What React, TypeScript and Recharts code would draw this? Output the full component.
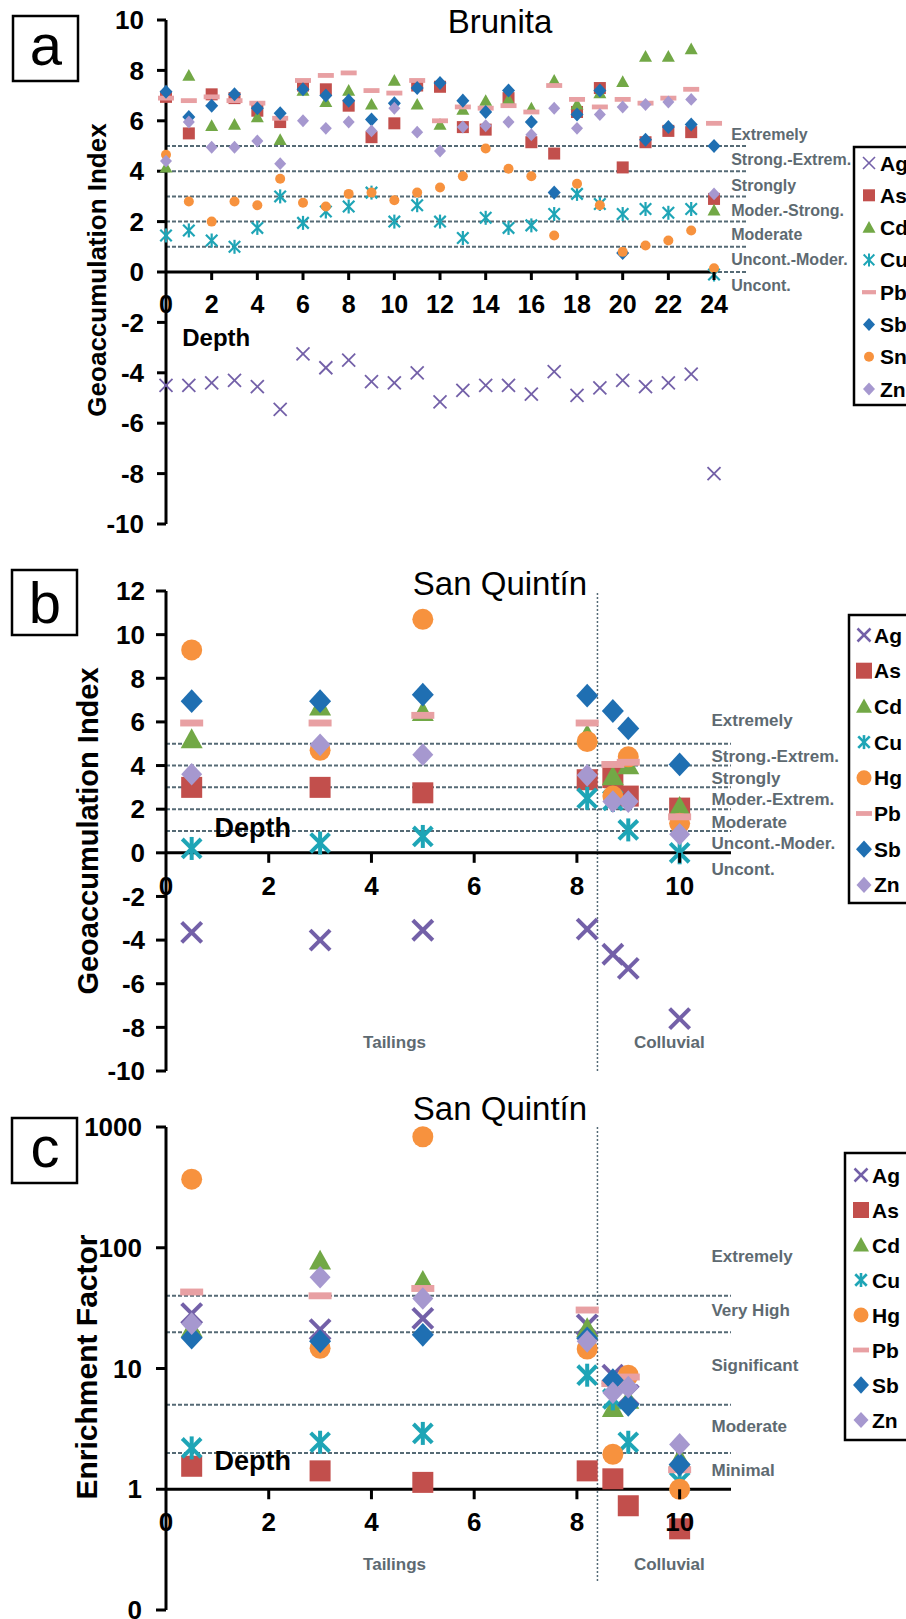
import React from 'react';
import { ScatterChart, Scatter, XAxis, YAxis, ReferenceLine } from 'recharts';

const FONT = '"Liberation Sans", Arial, Helvetica, sans-serif';
const GRAY = '#5e6a71';
const GRID = '#556a75';

// ---------------- Panel a: Brunita (Igeo) ----------------
const depthA = [0, 1, 2, 3, 4, 5, 6, 7, 8, 9, 10, 11, 12, 13, 14, 15, 16, 17, 18, 19, 20, 21, 22, 23, 24];
const agA = [-4.5, -4.5, -4.4, -4.3, -4.55, -5.45, -3.25, -3.8, -3.5, -4.35, -4.4, -4.0, -5.15, -4.7, -4.5, -4.5, -4.85, -3.95, -4.9, -4.6, -4.3, -4.55, -4.4, -4.05, -8.0];
const asA = [6.95, 5.5, 7.05, 6.9, 6.4, 5.95, 7.4, 7.25, 6.6, 5.35, 5.9, 7.4, 7.35, 5.75, 5.65, 6.9, 5.15, 4.7, 6.35, 7.3, 4.15, 5.15, 5.6, 5.55, 2.9];
const cdA = [4.15, 7.8, 5.8, 5.85, 6.15, 5.25, 7.2, 6.75, 7.2, 6.65, 7.6, 6.65, 5.85, 6.45, 6.8, 6.85, 6.5, 7.6, 6.65, 7.1, 7.55, 8.55, 8.55, 8.85, 2.45];
const cuA = [1.45, 1.65, 1.25, 1.0, 1.75, 3.0, 1.95, 2.4, 2.6, 3.15, 2.0, 2.65, 2.0, 1.35, 2.15, 1.75, 1.85, 2.3, 3.1, 2.7, 2.3, 2.5, 2.35, 2.5, -0.1];
const pbA = [6.9, 6.8, 6.95, 6.8, 6.7, 6.1, 7.6, 7.8, 7.9, 7.2, 7.1, 7.6, 6.0, 6.55, 6.5, 6.6, 6.35, 7.4, 6.85, 6.55, 6.85, 6.7, 6.9, 7.25, 5.9];
const sbA = [7.15, 6.15, 6.6, 7.05, 6.5, 6.3, 7.25, 7.0, 6.8, 6.05, 6.7, 7.3, 7.5, 6.8, 6.35, 7.2, 5.95, 3.15, 6.25, 7.2, 0.75, 5.25, 5.75, 5.85, 5.0];
const snA = [4.65, 2.8, 2.0, 2.8, 2.65, 3.7, 2.75, 2.6, 3.1, 3.15, 2.85, 3.15, 3.35, 3.8, 4.9, 4.1, 3.8, 1.45, 3.5, 2.65, 0.8, 1.05, 1.25, 1.65, 0.15];
const znA = [4.4, 5.95, 4.95, 4.95, 5.2, 4.3, 6.0, 5.7, 5.95, 5.6, 6.5, 5.55, 4.8, 5.75, 5.8, 5.95, 5.45, 6.5, 5.7, 6.25, 6.55, 6.65, 6.75, 6.85, 3.1];
const namesA = ['Ag', 'As', 'Cd', 'Cu', 'Pb', 'Sb', 'Sn', 'Zn'];
const valuesA: Record<string, (number | null)[]> = { Ag: agA, As: asA, Cd: cdA, Cu: cuA, Pb: pbA, Sb: sbA, Sn: snA, Zn: znA };
const yTicksA = [-10, -8, -6, -4, -2, 0, 2, 4, 6, 8, 10];
const xTicksA = [0, 2, 4, 6, 8, 10, 12, 14, 16, 18, 20, 22, 24];
const levelsA = [1, 2, 3, 4, 5];
const classTextA = ['Extremely', 'Strong.-Extrem.', 'Strongly', 'Moder.-Strong.', 'Moderate', 'Uncont.-Moder.', 'Uncont.'];
const classYA = [5.45, 4.45, 3.45, 2.45, 1.5, 0.5, -0.55];

// ---------------- Panel b: San Quintín (Igeo) ----------------
const depthB = [0.5, 3, 5, 8.2, 8.7, 9, 10];
const agB = [-3.65, -4.0, -3.55, -3.5, -4.65, -5.3, -7.6];
const asB = [3.0, 3.0, 2.75, 3.35, 3.45, 2.6, 2.05];
const cdB = [5.2, 6.7, 6.45, 5.4, 3.5, 4.0, 2.1];
const cuB = [0.2, 0.45, 0.75, 2.5, 2.4, 1.05, 0.0];
const hgB = [9.3, 4.7, 10.7, 5.1, 2.6, 4.4, 1.35];
const pbB = [5.95, 5.95, 6.3, 5.95, 4.05, 4.15, 1.65];
const sbB = [6.95, 6.95, 7.25, 7.2, 6.5, 5.7, 4.05];
const znB = [3.6, 4.95, 4.5, 3.55, 2.35, 2.35, 0.85];
const namesBC = ['Ag', 'As', 'Cd', 'Cu', 'Hg', 'Pb', 'Sb', 'Zn'];
const valuesB: Record<string, (number | null)[]> = { Ag: agB, As: asB, Cd: cdB, Cu: cuB, Hg: hgB, Pb: pbB, Sb: sbB, Zn: znB };
const yTicksB = [-10, -8, -6, -4, -2, 0, 2, 4, 6, 8, 10, 12];
const xTicksBC = [0, 2, 4, 6, 8, 10];
const levelsB = [1, 2, 3, 4, 5];
const classTextB = ['Extremely', 'Strong.-Extrem.', 'Strongly', 'Moder.-Extrem.', 'Moderate', 'Uncont.-Moder.', 'Uncont.'];
const classYB = [6.05, 4.4, 3.4, 2.45, 1.4, 0.45, -0.75];

// ---------------- Panel c: San Quintín (Enrichment factor) ----------------
const depthC = [0.5, 3, 5, 8.2, 8.7, 9, 10];
const agC = [28.5, 21, 26, 23, 8.8, 6.0, null];
const asC = [1.55, 1.42, 1.14, 1.42, 1.22, 0.73, 0.47];
const cdC = [21.5, 78, 53, 21.5, 4.7, 5.5, 1.8];
const cuC = [2.2, 2.45, 2.9, 8.8, 5.6, 2.45, 1.15];
const hgC = [370, 14.7, 830, 14.5, 1.95, 8.8, 1.0];
const pbC = [43, 40, 46, 30.5, 7.5, 8.5, 1.45];
const sbC = [18, 16.8, 19, 17.8, 8.0, 5.0, 1.6];
const znC = [23.5, 57, 38, 16.8, 6.3, 7.0, 2.35];
const valuesC: Record<string, (number | null)[]> = { Ag: agC, As: asC, Cd: cdC, Cu: cuC, Hg: hgC, Pb: pbC, Sb: sbC, Zn: znC };
const yTicksC = [0.1, 1, 10, 100, 1000];
const levelsC = [2, 5, 20, 40];
const classTextC = ['Extremely', 'Very High', 'Significant', 'Moderate', 'Minimal'];
const classYC = [85, 30, 10.6, 3.3, 1.42];

const boundary = 8.4;
const unitText = ['Tailings', 'Colluvial'];
const unitX = [4.45, 9.8];

// ---------------- styles ----------------
const COLORS: Record<string, string> = {
  Ag: '#7360a8', As: '#c24f4c', Cd: '#72a846', Cu: '#1ea5b6', Hg: '#f7923e', Sn: '#f7923e',
  Pb: '#e8a0a3', Sb: '#1f6fb2', Zn: '#a698cf',
};
type Kind = 'cross' | 'square' | 'triangle' | 'star' | 'circle' | 'dash' | 'diamond';
const SHAPES: Record<string, Kind> = {
  Ag: 'cross', As: 'square', Cd: 'triangle', Cu: 'star', Hg: 'circle', Sn: 'circle', Pb: 'dash', Sb: 'diamond', Zn: 'diamond',
};
const sizeA: Record<string, [number, number]> = { Ag: [13, 1.8], As: [12, 0], Cd: [13, 0], Cu: [14, 2.2], Pb: [16, 0], Sb: [13, 0], Sn: [10, 0], Zn: [12, 0] };
const sizeBC: Record<string, [number, number]> = { Ag: [20, 4], As: [21, 0], Cd: [22, 0], Cu: [23, 4], Hg: [21, 0], Pb: [23, 0], Sb: [22, 0], Zn: [21, 0] };
const legSizeA: Record<string, [number, number]> = { Ag: [12, 1.6], As: [12, 0], Cd: [13, 0], Cu: [13, 2], Pb: [14, 0], Sb: [12, 0], Sn: [10, 0], Zn: [12, 0] };
const legSizeBC: Record<string, [number, number]> = { Ag: [13, 2.5], As: [16, 0], Cd: [16, 0], Cu: [14, 2.6], Hg: [15, 0], Pb: [16, 0], Sb: [16, 0], Zn: [15, 0] };

function Marker({ kind, cx, cy, s, w, color }: { kind: Kind; cx: number; cy: number; s: number; w: number; color: string }) {
  const h = s / 2;
  if (cx == null || cy == null || isNaN(cx) || isNaN(cy)) return null;
  switch (kind) {
    case 'cross':
      return (
        <g stroke={color} strokeWidth={w}>
          <line x1={cx - h} y1={cy - h} x2={cx + h} y2={cy + h} />
          <line x1={cx - h} y1={cy + h} x2={cx + h} y2={cy - h} />
        </g>
      );
    case 'star': {
      const d = h * 0.82;
      return (
        <g stroke={color} strokeWidth={w}>
          <line x1={cx - d} y1={cy - d} x2={cx + d} y2={cy + d} />
          <line x1={cx - d} y1={cy + d} x2={cx + d} y2={cy - d} />
          <line x1={cx} y1={cy - h} x2={cx} y2={cy + h} />
        </g>
      );
    }
    case 'square':
      return <rect x={cx - h} y={cy - h} width={s} height={s} fill={color} />;
    case 'triangle':
      return <polygon points={`${cx},${cy - h * 1.0} ${cx - h},${cy + h * 0.8} ${cx + h},${cy + h * 0.8}`} fill={color} />;
    case 'circle':
      return <circle cx={cx} cy={cy} r={h} fill={color} />;
    case 'dash':
      return <rect x={cx - h} y={cy - s * 0.15} width={s} height={s * 0.3} fill={color} />;
    case 'diamond':
      return <polygon points={`${cx},${cy - h * 1.08} ${cx + h},${cy} ${cx},${cy + h * 1.08} ${cx - h},${cy}`} fill={color} />;
  }
  return null;
}

function seriesEl(name: string, xs: number[], values: Record<string, (number | null)[]>, sizes: Record<string, [number, number]>) {
  const ys = values[name];
  const data = xs.map((x, i) => ({ x, y: ys[i] })).filter((d) => d.y != null);
  const [s, w] = sizes[name];
  return (
    <Scatter
      key={name}
      name={name}
      data={data}
      isAnimationActive={false}
      shape={(p: any) => <Marker kind={SHAPES[name]} cx={p.cx} cy={p.cy} s={s} w={w} color={COLORS[name]} />}
    />
  );
}

function textSeries(key: string, data: { x: number; y: number; text: string }[], opts: { size: number; color: string; anchor: string }) {
  return (
    <Scatter
      key={key}
      data={data}
      isAnimationActive={false}
      shape={(p: any) => (
        <text
          x={p.cx}
          y={p.cy}
          dominantBaseline="central"
          textAnchor={opts.anchor as any}
          fontFamily={FONT}
          fontWeight="bold"
          fontSize={opts.size}
          fill={opts.color}
        >
          {p.payload.text}
        </text>
      )}
    />
  );
}

function makeXTick(lineY: number, labelDy: number, fontSize: number, tickLen: number) {
  return (p: any) => (
    <g>
      {p.payload.value !== 0 && (
        <line x1={p.x} x2={p.x} y1={lineY} y2={lineY + tickLen} stroke="#000" strokeWidth={3} />
      )}
      <text x={p.x} y={lineY + labelDy} textAnchor="middle" fontFamily={FONT} fontWeight="bold" fontSize={fontSize} fill="#000">
        {p.payload.value}
      </text>
    </g>
  );
}

const W = 906;

// ---- panel geometry ----
const mA = { top: 20, right: 160, bottom: 15, left: 0 };
const hA = 540;
const zeroA = mA.top + (hA - mA.top - mA.bottom - 1) * (10 / 20);

const topB = 540;
const mB = { top: 51, right: 175, bottom: 28, left: 0 };
const hB = 560;
const zeroB = mB.top + (hB - mB.top - mB.bottom - 1) * (12 / 22);

const topC = 1100;
const mC = { top: 27, right: 175, bottom: 8, left: 0 };
const hC = 519;
const oneC = mC.top + (hC - mC.top - mC.bottom - 1) * (3 / 4);

const axisLine = { stroke: '#000', strokeWidth: 3 };
const dashed = { stroke: GRID, strokeWidth: 2, strokeDasharray: '4 2' };

function PanelA() {
  const classData = classTextA.map((t, i) => ({ x: 24.75, y: classYA[i], text: t }));
  return (
    <ScatterChart width={W} height={hA} margin={mA}>
      <XAxis type="number" dataKey="x" domain={[0, 25.4]} ticks={xTicksA} interval={0}
        axisLine={false} tickLine={false} height={1} tick={makeXTick(zeroA, 41, 25, 8)} />
      <YAxis type="number" dataKey="y" domain={[-10, 10]} ticks={yTicksA} interval={0} width={166}
        axisLine={axisLine} tickLine={axisLine} tickSize={9} tickMargin={13}
        tick={{ fontSize: 26, fontWeight: 'bold', fill: '#000', fontFamily: FONT }} />
      <ReferenceLine y={0} {...dashed} />
      {levelsA.map((v) => (
        <ReferenceLine key={v} y={v} {...dashed} />
      ))}
      <ReferenceLine segment={[{ x: 0, y: 0 }, { x: 24, y: 0 }]} stroke="#000" strokeWidth={3} />
      {namesA.map((n) => seriesEl(n, depthA, valuesA, sizeA))}
      {textSeries('cls', classData, { size: 16, color: GRAY, anchor: 'start' })}
      {textSeries('depth', [{ x: 2.2, y: -2.6, text: 'Depth' }], { size: 24, color: '#000', anchor: 'middle' })}
    </ScatterChart>
  );
}

function PanelB() {
  const classData = classTextB.map((t, i) => ({ x: 10.62, y: classYB[i], text: t }));
  const units = unitText.map((t, i) => ({ x: unitX[i], y: -8.7, text: t }));
  return (
    <ScatterChart width={W} height={hB} margin={mB}>
      <XAxis type="number" dataKey="x" domain={[0, 11]} ticks={xTicksBC} interval={0}
        axisLine={false} tickLine={false} height={1} tick={makeXTick(zeroB, 42, 26, 10)} />
      <YAxis type="number" dataKey="y" domain={[-10, 12]} ticks={yTicksB} interval={0} width={166}
        axisLine={axisLine} tickLine={axisLine} tickSize={10} tickMargin={11}
        tick={{ fontSize: 26, fontWeight: 'bold', fill: '#000', fontFamily: FONT }} />
      {levelsB.map((v) => (
        <ReferenceLine key={v} y={v} {...dashed} />
      ))}
      <ReferenceLine x={boundary} stroke={GRID} strokeWidth={1.5} strokeDasharray="2 2" />
      <ReferenceLine y={0} stroke="#000" strokeWidth={3} />
      {namesBC.map((n) => seriesEl(n, depthB, valuesB, sizeBC))}
      {textSeries('cls', classData, { size: 17, color: GRAY, anchor: 'start' })}
      {textSeries('units', units, { size: 17, color: GRAY, anchor: 'middle' })}
      {textSeries('depth', [{ x: 1.69, y: 1.15, text: 'Depth' }], { size: 27, color: '#000', anchor: 'middle' })}
    </ScatterChart>
  );
}

function PanelC() {
  const classData = classTextC.map((t, i) => ({ x: 10.62, y: classYC[i], text: t }));
  const units = unitText.map((t, i) => ({ x: unitX[i], y: 0.237, text: t }));
  return (
    <ScatterChart width={W} height={hC} margin={mC}>
      <XAxis type="number" dataKey="x" domain={[0, 11]} ticks={xTicksBC} interval={0}
        axisLine={false} tickLine={false} height={1} tick={makeXTick(oneC, 42, 26, 10)} />
      <YAxis type="number" dataKey="y" scale="log" domain={[0.1, 1000]} ticks={yTicksC} interval={0} width={166}
        axisLine={axisLine} tickLine={axisLine} tickSize={10} tickMargin={14}
        tickFormatter={(v: number) => (v < 1 ? '0' : String(v))}
        tick={{ fontSize: 26, fontWeight: 'bold', fill: '#000', fontFamily: FONT }} />
      {levelsC.map((v) => (
        <ReferenceLine key={v} y={v} {...dashed} />
      ))}
      <ReferenceLine segment={[{ x: boundary, y: 1000 }, { x: boundary, y: 0.17 }]} stroke={GRID} strokeWidth={1.5} strokeDasharray="2 2" />
      <ReferenceLine y={1} stroke="#000" strokeWidth={3} />
      {namesBC.map((n) => seriesEl(n, depthC, valuesC, sizeBC))}
      {textSeries('cls', classData, { size: 17, color: GRAY, anchor: 'start' })}
      {textSeries('units', units, { size: 17, color: GRAY, anchor: 'middle' })}
      {textSeries('depth', [{ x: 1.69, y: 1.7, text: 'Depth' }], { size: 27, color: '#000', anchor: 'middle' })}
    </ScatterChart>
  );
}

function LegendBox({ names, left, top, bottom, symX, textX, y0, dy, sizes }: any) {
  return (
    <g>
      <rect x={left} y={top} width={120} height={bottom - top} fill="#fff" stroke="#000" strokeWidth={2.5} />
      {names.map((n: string, i: number) => {
        const y = y0 + i * dy;
        const [s, w] = sizes[n];
        return (
          <g key={n}>
            <Marker kind={SHAPES[n]} cx={symX} cy={y} s={s} w={w} color={COLORS[n]} />
            <text x={textX} y={y} dominantBaseline="central" fontFamily={FONT} fontWeight="bold" fontSize={21} fill="#000">
              {n}
            </text>
          </g>
        );
      })}
    </g>
  );
}

function Overlay() {
  const boxes = [
    { x: 13, y: 16, t: 'a', base: 65 },
    { x: 12, y: 570, t: 'b', base: 623 },
    { x: 12, y: 1118, t: 'c', base: 1167 },
  ];
  return (
    <svg width={W} height={1619} style={{ position: 'absolute', left: 0, top: 0, pointerEvents: 'none' }}>
      {boxes.map((b) => (
        <g key={b.t}>
          <rect x={b.x} y={b.y} width={65} height={65} fill="#fff" stroke="#000" strokeWidth={2.5} />
          <text x={b.x + 33} y={b.base} textAnchor="middle" fontFamily={FONT} fontSize={58} fill="#000">{b.t}</text>
        </g>
      ))}
      <text x={500} y={33} textAnchor="middle" fontFamily={FONT} fontSize={33} fill="#000">Brunita</text>
      <text x={500} y={595} textAnchor="middle" fontFamily={FONT} fontSize={33} fill="#000">San Quintín</text>
      <text x={500} y={1120} textAnchor="middle" fontFamily={FONT} fontSize={33} fill="#000">San Quintín</text>
      <text x={97} y={270} transform="rotate(-90 97 270)" textAnchor="middle" dominantBaseline="central" fontFamily={FONT} fontWeight="bold" fontSize={26}>Geoaccumulation Index</text>
      <text x={88} y={831} transform="rotate(-90 88 831)" textAnchor="middle" dominantBaseline="central" fontFamily={FONT} fontWeight="bold" fontSize={29}>Geoaccumulation Index</text>
      <text x={86} y={1367} transform="rotate(-90 86 1367)" textAnchor="middle" dominantBaseline="central" fontFamily={FONT} fontWeight="bold" fontSize={30}>Enrichment Factor</text>
      <LegendBox names={namesA} left={854} top={147} bottom={405} symX={869} textX={880} y0={163} dy={32.3} sizes={legSizeA} />
      <LegendBox names={namesBC} left={849} top={615} bottom={903} symX={864} textX={874} y0={635} dy={35.7} sizes={legSizeBC} />
      <LegendBox names={namesBC} left={845} top={1153} bottom={1440} symX={861} textX={872} y0={1175} dy={35} sizes={legSizeBC} />
    </svg>
  );
}

export default function App() {
  return (
    <div style={{ position: 'absolute', left: 0, top: 0, width: W, height: 1619, overflow: 'hidden', background: '#fff' }}>
      <div style={{ position: 'absolute', left: 0, top: 0 }}>
        <PanelA />
      </div>
      <div style={{ position: 'absolute', left: 0, top: topB }}>
        <PanelB />
      </div>
      <div style={{ position: 'absolute', left: 0, top: topC }}>
        <PanelC />
      </div>
      <Overlay />
    </div>
  );
}
